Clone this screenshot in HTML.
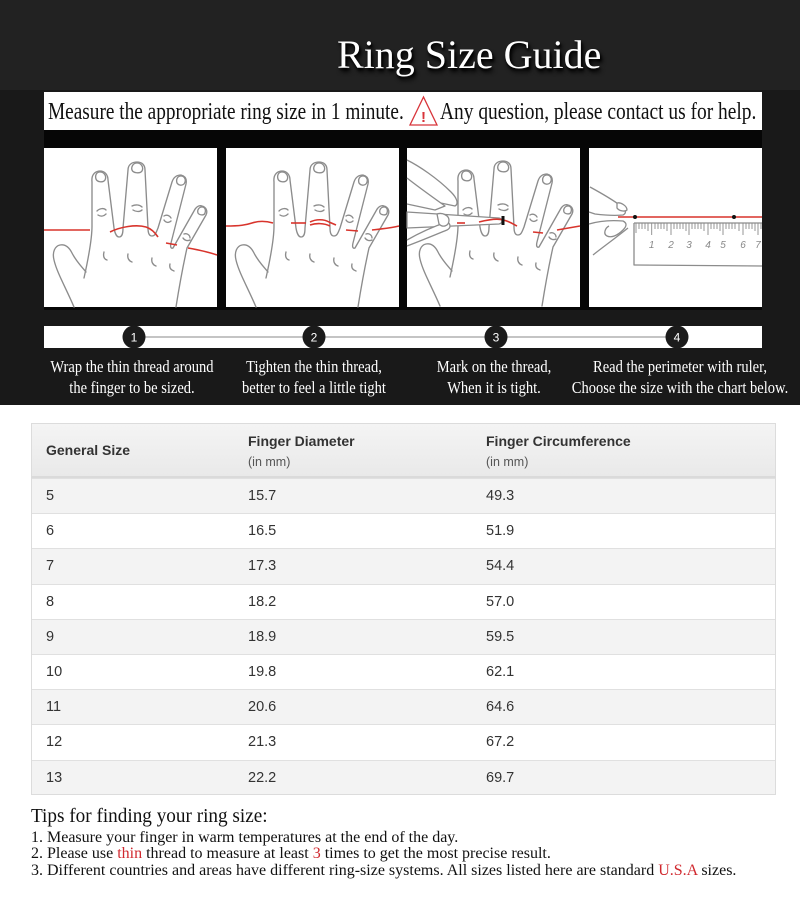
<!DOCTYPE html>
<html><head><meta charset="utf-8">
<style>
*{margin:0;padding:0;box-sizing:border-box}
html,body{width:800px;height:914px;background:#fff;overflow:hidden}
body{position:relative;font-family:"Liberation Sans",Arial,sans-serif}
.a{position:absolute;white-space:nowrap}
.serif{font-family:"Liberation Serif","Times New Roman",serif}
.step{font-family:"Liberation Serif",serif;color:#fff;font-size:16.5px;line-height:21px;text-align:center;width:260px;transform:scaleX(0.88);transform-origin:center top}
.row{position:absolute;left:31px;width:745px;height:35.2px;border-top:1px solid #e0e0e0;font-size:14.5px;color:#333;line-height:35px}
.row span{position:absolute;top:0}
.g{background:#f3f3f3}
.w{background:#fff}
</style></head><body>

<svg class="a" style="left:0;top:0" width="800" height="405" viewBox="0 0 800 405">
  <defs>
    <g id="hand" fill="#fff" stroke="#8c8c8c" stroke-width="1.35" stroke-linejoin="round" stroke-linecap="round">
      <path d="M30 159 C22 140 13 125 10 112 C8 104 11 98 16 97 C21 96 25 99 28 105 C32 113 37 118 42 124"/>
      <path d="M40 130 C44 112 48 92 48 78 L48 34 C47 25 53 23 56 23 C61 23 64 27 64 32 L70 80 C71 86 73 89 75 89 C78 89 79 86 79 80 L84 22 C84 16 89 14 93 14 C98 14 101 17 101 22 L104 80 C104 86 106 88 108 88 C111 88 112 85 114 80 L128 34 C130 28 134 27 137 27 C141 28 143 31 142 36 L127 95 C126 99 127 101 129 100 L150 63 C152 59 155 57 158 58 C162 59 164 63 162 67 L143 100 C139 118 135 140 132 159" fill="none"/>
      <path d="M56 24 C52 24 51 28 52 31 C53 34 59 35 61 32 C63 28 60 24 56 24Z M93 15 C89 15 87 19 88 22 C89 25 96 26 98 23 C100 19 97 15 93 15Z M137 28 C133 28 132 32 133 35 C135 38 140 38 141 34 C142 31 140 28 137 28Z M158 59 C155 59 153 62 154 65 C155 67 160 68 161 65 C162 62 161 59 158 59Z"/>
      <path d="M53 63 C56 60 60 60 62 62 M54 67 C57 69 60 68 62 66 M88 58 C92 56 96 57 98 59 M89 62 C92 64 96 64 98 62 M120 68 C123 66 126 68 127 70 M120 72 C122 75 125 75 127 73 M140 86 C143 85 146 87 146 90 M139 90 C141 93 144 93 146 92" fill="none"/>
      <path d="M60 104 C59 108 60 111 63 112 M84 106 C83 110 85 113 88 114 M108 110 C107 114 109 117 112 118 M126 116 C125 120 127 122 130 123" fill="none"/>
    </g>
  </defs>
  <rect x="0" y="0" width="800" height="405" fill="#191919"/>
  <rect x="0" y="0" width="800" height="90" fill="#222"/>
  <rect x="44" y="130" width="718" height="180" fill="#060606"/>
  <rect x="44" y="92" width="718" height="38" fill="#fff"/>
  <!-- warning icon -->
  <polygon points="423.5,97 410,125 437,125" fill="#fff" stroke="#d8343a" stroke-width="1.3"/>
  <text x="423.5" y="122" font-family="Liberation Sans" font-weight="bold" font-size="15" fill="#d8343a" text-anchor="middle">!</text>

  <!-- panel 1 -->
  <g transform="translate(44,148)">
    <rect width="173" height="159" fill="#fff"/>
    <use href="#hand"/>
    <g fill="none" stroke="#d8342c" stroke-width="1.6">
      <path d="M0 82 L46 82"/>
      <path d="M66 84 C76 79 92 76 102 79 C108 81 112 86 114 89"/>
      <path d="M122 95 L133 97"/>
      <path d="M144 100 C155 102 165 104 173 107"/>
    </g>
  </g>
  <!-- panel 2 -->
  <g transform="translate(226,148)">
    <rect width="173" height="159" fill="#fff"/>
    <use href="#hand"/>
    <g fill="none" stroke="#d8342c" stroke-width="1.6">
      <path d="M0 78 C14 78 20 77 26 75 C32 73 40 73 47 75"/>
      <path d="M65 75 L80 75"/>
      <path d="M84 74 C90 71 98 71 103 74 L110 77"/>
      <path d="M84 77 C90 75 98 75 104 78"/>
      <path d="M120 82 L132 83"/>
      <path d="M146 82 C155 81 165 80 173 78"/>
    </g>
  </g>
  <!-- panel 3 -->
  <g transform="translate(407,148)">
    <rect width="173" height="159" fill="#fff"/>
    <use href="#hand" transform="translate(3,-1)"/>
    <g fill="#fff" stroke="#8c8c8c" stroke-width="1.3" stroke-linejoin="round">
      <path d="M0 12 C12 18 30 30 44 44 C50 50 52 56 48 58 L10 50 L0 48"/>
      <path d="M0 30 C10 38 24 48 38 58 L28 62 L0 56"/>
      <path d="M0 64 L92 70 C96 71 96 75 92 76 L0 80 Z"/>
      <path d="M0 92 C14 84 28 78 40 74 C44 76 44 80 40 82 C30 86 16 92 0 98"/>
      <path d="M30 66 C36 64 42 68 42 72 C42 78 36 80 32 76 Z"/>
    </g>
    <g fill="none" stroke="#d8342c" stroke-width="1.6">
      <path d="M50 75 L58 75"/>
      <path d="M72 74 C80 72 90 70 96 72 C102 73 106 76 110 78"/>
      <path d="M126 84 L136 85"/>
      <path d="M150 82 L173 78"/>
    </g>
    <rect x="94.5" y="68" width="3" height="9" fill="#111"/>
  </g>
  <!-- panel 4 -->
  <g transform="translate(589,148)">
    <rect width="173" height="159" fill="#fff"/>
    <g fill="#fff" stroke="#8c8c8c" stroke-width="1.3" stroke-linejoin="round">
      <path d="M1 39 C12 45 24 52 32 58 C37 61 38 65 34 67 C24 68 14 67 6 66 L0 64"/>
      <path d="M28 55 C32 54 38 58 38 62 C36 64 30 63 28 60 Z"/>
      <path d="M0 76 C10 73 22 72 34 73 C38 75 38 78 34 82 C28 88 22 90 18 88 C14 86 16 80 20 78"/>
      <path d="M4 107 C14 99 24 92 39 80"/>
      <path d="M45 75 L173 75 M45 75 L45 117 L173 118"/>
    </g>
    <g stroke="#8a8a8a" stroke-width="0.9">
      <path d="M47 75 v10 M50 75 v6 M53 75 v6 M56 75 v6 M59 75 v8 M62.7 75 v12 M66 75 v6 M69 75 v6 M72 75 v6 M75 75 v6 M78 75 v8 M82 75 v12 M85 75 v6 M88 75 v6 M91 75 v6 M94 75 v6 M97 75 v8 M100 75 v12 M103 75 v6 M106 75 v6 M109 75 v6 M112 75 v6 M115 75 v8 M119 75 v12 M122 75 v6 M125 75 v6 M128 75 v6 M131 75 v8 M134 75 v12 M137 75 v6 M140 75 v6 M143 75 v6 M146 75 v6 M150 75 v8 M154 75 v12 M157 75 v6 M160 75 v6 M163 75 v6 M166 75 v8 M169 75 v12 M172 75 v6"/>
    </g>
    <g font-family="Liberation Sans" font-style="italic" font-size="10" fill="#888" text-anchor="middle">
      <text x="62.7" y="100">1</text><text x="82" y="100">2</text><text x="100" y="100">3</text><text x="119" y="100">4</text><text x="134" y="100">5</text><text x="154" y="100">6</text><text x="169" y="100">7</text>
    </g>
    <path d="M29 69 L173 69" stroke="#d8342c" stroke-width="1.6"/>
    <circle cx="46" cy="69" r="2" fill="#111"/>
    <circle cx="145" cy="69" r="2" fill="#111"/>
  </g>

  <!-- step bar -->
  <rect x="44" y="326" width="718" height="22" fill="#fff"/>
  <line x1="134" y1="337" x2="677" y2="337" stroke="#b0b0b0" stroke-width="1.5"/>
  <g fill="#1b1b1b">
    <circle cx="134" cy="337" r="11.5"/><circle cx="314" cy="337" r="11.5"/><circle cx="496" cy="337" r="11.5"/><circle cx="677" cy="337" r="11.5"/>
  </g>
  <g font-family="Liberation Sans" font-size="12" fill="#fff" text-anchor="middle">
    <text x="134" y="341.5">1</text><text x="314" y="341.5">2</text><text x="496" y="341.5">3</text><text x="677" y="341.5">4</text>
  </g>
</svg>

<div class="a serif" style="left:337px;top:34.5px;font-size:40px;line-height:40px;color:#fff;text-shadow:2px 4px 4px #000,1px 2px 2px #000">Ring Size Guide</div>

<div class="a serif" style="left:48px;top:100px;font-size:24px;line-height:24px;color:#111;transform:scaleX(0.804);transform-origin:left top">Measure the appropriate ring size in 1 minute.</div>
<div class="a serif" style="left:440px;top:100px;font-size:24px;line-height:24px;color:#111;transform:scaleX(0.81);transform-origin:left top">Any question, please contact us for help.</div>

<div class="a step" style="left:2px;top:355.6px">Wrap the thin thread around<br>the finger to be sized.</div>
<div class="a step" style="left:184px;top:355.6px">Tighten the thin thread,<br>better to feel a little tight</div>
<div class="a step" style="left:364px;top:355.6px">Mark on the thread,<br>When it is tight.</div>
<div class="a step" style="left:550px;top:355.6px">Read the perimeter with ruler,<br>Choose the size with the chart below.</div>

<!-- table -->
<div class="a" style="left:31px;top:423px;width:745px;height:372px;border:1px solid #dcdcdc;background:#fff"></div>
<div class="a" style="left:31px;top:423px;width:745px;height:55px;background:linear-gradient(#f4f4f4,#e9e9e9);border:1px solid #dcdcdc;border-bottom:2px solid #dadada"></div>
<div class="a" style="left:46px;top:442px;font-size:14px;font-weight:bold;color:#333;line-height:16px">General Size</div>
<div class="a" style="left:248px;top:433px;font-size:14px;font-weight:bold;color:#333;line-height:16px">Finger Diameter</div>
<div class="a" style="left:248px;top:455px;font-size:12.5px;color:#555;line-height:15px">(in mm)</div>
<div class="a" style="left:486px;top:433px;font-size:14px;font-weight:bold;color:#333;line-height:16px">Finger Circumference</div>
<div class="a" style="left:486px;top:455px;font-size:12.5px;color:#555;line-height:15px">(in mm)</div>

<div class="row g" style="top:478px"><span style="left:15px">5</span><span style="left:217px">15.7</span><span style="left:455px">49.3</span></div>
<div class="row w" style="top:513.2px"><span style="left:15px">6</span><span style="left:217px">16.5</span><span style="left:455px">51.9</span></div>
<div class="row g" style="top:548.4px"><span style="left:15px">7</span><span style="left:217px">17.3</span><span style="left:455px">54.4</span></div>
<div class="row w" style="top:583.6px"><span style="left:15px">8</span><span style="left:217px">18.2</span><span style="left:455px">57.0</span></div>
<div class="row g" style="top:618.8px"><span style="left:15px">9</span><span style="left:217px">18.9</span><span style="left:455px">59.5</span></div>
<div class="row w" style="top:654px"><span style="left:15px">10</span><span style="left:217px">19.8</span><span style="left:455px">62.1</span></div>
<div class="row g" style="top:689.2px"><span style="left:15px">11</span><span style="left:217px">20.6</span><span style="left:455px">64.6</span></div>
<div class="row w" style="top:724.4px"><span style="left:15px">12</span><span style="left:217px">21.3</span><span style="left:455px">67.2</span></div>
<div class="row g" style="top:759.6px;height:35.4px;border-bottom:1px solid #dcdcdc"><span style="left:15px">13</span><span style="left:217px">22.2</span><span style="left:455px">69.7</span></div>
<div class="a" style="left:31px;top:478px;width:1px;height:317px;background:#dcdcdc"></div>
<div class="a" style="left:775px;top:478px;width:1px;height:317px;background:#dcdcdc"></div>

<!-- tips -->
<div class="a serif" style="left:31px;top:806px;font-size:20px;line-height:20px;color:#111;transform:scaleX(0.96);transform-origin:left top">Tips for finding your ring size:</div>
<div class="a serif" style="left:31px;top:830px;font-size:16px;line-height:16px;color:#111">1. Measure your finger in warm temperatures at the end of the day.</div>
<div class="a serif" style="left:31px;top:846px;font-size:16px;line-height:16px;color:#111">2. Please use <span style="color:#d0282e">thin</span> thread to measure at least <span style="color:#d0282e">3</span> times to get the most precise result.</div>
<div class="a serif" style="left:31px;top:862.6px;font-size:16px;line-height:16px;color:#111">3. Different countries and areas have different ring-size systems. All sizes listed here are standard <span style="color:#d0282e">U.S.A</span> sizes.</div>

</body></html>
